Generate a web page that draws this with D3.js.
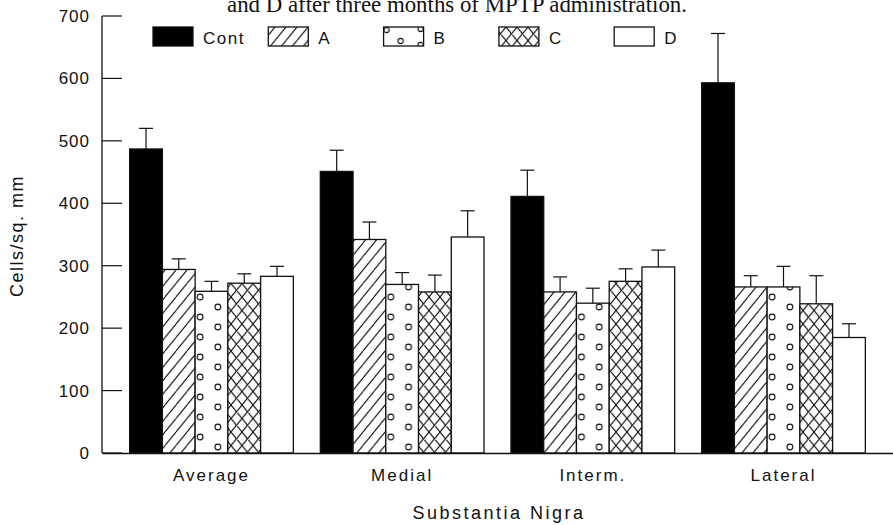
<!DOCTYPE html>
<html>
<head>
<meta charset="utf-8">
<script src="https://cdn.jsdelivr.net/npm/d3@7"></script>
<style>
  html, body { margin: 0; padding: 0; background: #fff; }
  svg { display: block; }
  text { font-family: "Liberation Sans", Arial, Helvetica, sans-serif; fill: #111; }
</style>
</head>
<body>
<script>
// Cell density in substantia nigra regions (cells per sq. mm), mean and SEM
const regions = ["Average", "Medial", "Interm.", "Lateral"];
const groups = ["Cont", "A", "B", "C", "D"];
const contValues = [487, 451, 411, 593];
const contErrors = [33, 34, 42, 79];
const aValues = [294, 342, 258, 266];
const aErrors = [17, 28, 24, 18];
const bValues = [259, 270, 240, 266];
const bErrors = [16, 19, 24, 33];
const cValues = [272, 258, 275, 239];
const cErrors = [15, 27, 20, 45];
const dValues = [283, 346, 298, 185];
const dErrors = [16, 42, 27, 22];
const yTicks = [0, 100, 200, 300, 400, 500, 600, 700];

const seriesValues = [contValues, aValues, bValues, cValues, dValues];
const seriesErrors = [contErrors, aErrors, bErrors, cErrors, dErrors];

const W = 893, H = 525;
const svg = d3.select("body").append("svg").attr("width", W).attr("height", H);
const defs = svg.append("defs");

const x0 = d3.scaleBand().domain(regions).range([102, 893]).paddingInner(0.1414).paddingOuter(0.145);
const x1 = d3.scaleBand().domain(groups).range([0, x0.bandwidth()]).padding(0);
const y = d3.scaleLinear().domain([0, 700]).range([453, 16]);

// Fill patterns
const hw = 11, hh = 13.5;
const hatch = defs.append("pattern").attr("id", "hatch").attr("patternUnits", "userSpaceOnUse")
  .attr("width", hw).attr("height", hh);
hatch.append("rect").attr("width", hw).attr("height", hh).attr("fill", "#fff");
hatch.append("path")
  .attr("d", `M0,${hh} L${hw},0 M${-hw},${hh} L0,0 M${hw},${hh} L${2 * hw},0`)
  .attr("stroke", "#111").attr("stroke-width", 1.1);

const cross = defs.append("pattern").attr("id", "cross").attr("patternUnits", "userSpaceOnUse")
  .attr("width", hw).attr("height", hh);
cross.append("rect").attr("width", hw).attr("height", hh).attr("fill", "#fff");
cross.append("path")
  .attr("d", `M0,${hh} L${hw},0 M${-hw},${hh} L0,0 M${hw},${hh} L${2 * hw},0 ` +
             `M0,0 L${hw},${hh} M${-hw},0 L0,${hh} M${hw},0 L${2 * hw},${hh}`)
  .attr("stroke", "#111").attr("stroke-width", 1.1);

function dotPattern(id, px, py, w) {
  const p = defs.append("pattern").attr("id", id).attr("patternUnits", "userSpaceOnUse")
    .attr("x", px).attr("y", py).attr("width", w).attr("height", 20);
  p.append("rect").attr("width", w).attr("height", 20).attr("fill", "#fff");
  [[5, 4], [w - 10, 14]].forEach(([cx, cy]) => {
    p.append("circle").attr("cx", cx).attr("cy", cy).attr("r", 2.9)
      .attr("fill", "none").attr("stroke", "#111").attr("stroke-width", 1.1);
  });
}

function fillFor(gi, key) {
  if (gi === 0) return "#000";
  if (gi === 1) return "url(#hatch)";
  if (gi === 2) return `url(#${key})`;
  if (gi === 3) return "url(#cross)";
  return "#fff";
}

// Caption line above the plot (its upper part runs off the top edge)
svg.append("text")
  .attr("x", 457).attr("y", 12)
  .attr("text-anchor", "middle")
  .attr("textLength", 460).attr("lengthAdjust", "spacingAndGlyphs")
  .style("font-family", "'Liberation Serif', 'Times New Roman', serif")
  .style("font-size", "23px")
  .text("and D after three months of MPTP administration.");

// Axes
const yAxis = d3.axisLeft(y).tickValues(yTicks).tickSize(0).tickPadding(12);
const yg = svg.append("g").attr("transform", "translate(102,0)").call(yAxis);
yg.select(".domain").remove();
yg.selectAll("text").style("font-size", "17px").style("letter-spacing", "1px")
  .attr("font-family", null).attr("x", -12);

svg.append("g").selectAll("line").data(yTicks).join("line")
  .attr("x1", 102).attr("x2", 122)
  .attr("y1", d => y(d)).attr("y2", d => y(d))
  .attr("stroke", "#111").attr("stroke-width", 1.2);

svg.append("line").attr("x1", 102).attr("x2", 102).attr("y1", y(700)).attr("y2", y(0))
  .attr("stroke", "#111").attr("stroke-width", 1.3);

// Bars with upper error whiskers
const barG = svg.append("g");
regions.forEach((r, ri) => {
  groups.forEach((g, gi) => {
    const v = seriesValues[gi][ri];
    const e = seriesErrors[gi][ri];
    const bx = x0(r) + x1(g);
    const bw = x1.bandwidth();
    const key = `dots-${ri}`;
    if (gi === 2) dotPattern(key, bx, y(0), bw);
    const cx = bx + bw / 2;
    barG.append("line").attr("x1", cx).attr("x2", cx).attr("y1", y(v)).attr("y2", y(v + e))
      .attr("stroke", "#111").attr("stroke-width", 1.2);
    barG.append("line").attr("x1", cx - 7).attr("x2", cx + 7).attr("y1", y(v + e)).attr("y2", y(v + e))
      .attr("stroke", "#111").attr("stroke-width", 1.2);
    barG.append("rect")
      .attr("x", bx).attr("y", y(v)).attr("width", bw).attr("height", y(0) - y(v))
      .attr("fill", fillFor(gi, key)).attr("stroke", "#111").attr("stroke-width", 1.3);
  });
});

// X axis
const xAxis = d3.axisBottom(x0).tickSize(0).tickPadding(16);
const xg = svg.append("g").attr("transform", `translate(0,${y(0)})`).call(xAxis);
xg.select(".domain").attr("stroke", "#111").attr("stroke-width", 1.3);
xg.selectAll("text").style("font-size", "17px").style("letter-spacing", "2px").attr("font-family", null);

// Axis titles
svg.append("text")
  .attr("transform", "translate(23,236) rotate(-90)")
  .attr("text-anchor", "middle")
  .style("font-size", "18px").style("letter-spacing", "1.5px")
  .text("Cells/sq. mm");

svg.append("text")
  .attr("x", 499).attr("y", 519)
  .attr("text-anchor", "middle")
  .style("font-size", "18px").style("letter-spacing", "2.5px")
  .text("Substantia Nigra");

// Legend
const legend = svg.append("g");
groups.forEach((g, gi) => {
  const lx = 153 + gi * 115.3;
  const key = "dots-legend";
  if (gi === 2) {
    const p = defs.append("pattern").attr("id", key).attr("patternUnits", "userSpaceOnUse")
      .attr("x", lx).attr("y", 27).attr("width", 40).attr("height", 20);
    p.append("rect").attr("width", 40).attr("height", 20).attr("fill", "#fff");
    [[3, 3], [37, 2], [17, 14], [37, 18]].forEach(([cx, cy]) => {
      p.append("circle").attr("cx", cx).attr("cy", cy).attr("r", 2.6)
        .attr("fill", "none").attr("stroke", "#111").attr("stroke-width", 1.1);
    });
  }
  legend.append("rect").attr("x", lx).attr("y", 27).attr("width", 40).attr("height", 19)
    .attr("fill", fillFor(gi, key)).attr("stroke", "#111").attr("stroke-width", 1.3);
  legend.append("text").attr("x", lx + 50).attr("y", 44)
    .style("font-size", "17px").style("letter-spacing", "1.5px")
    .text(g);
});
</script>
</body>
</html>
